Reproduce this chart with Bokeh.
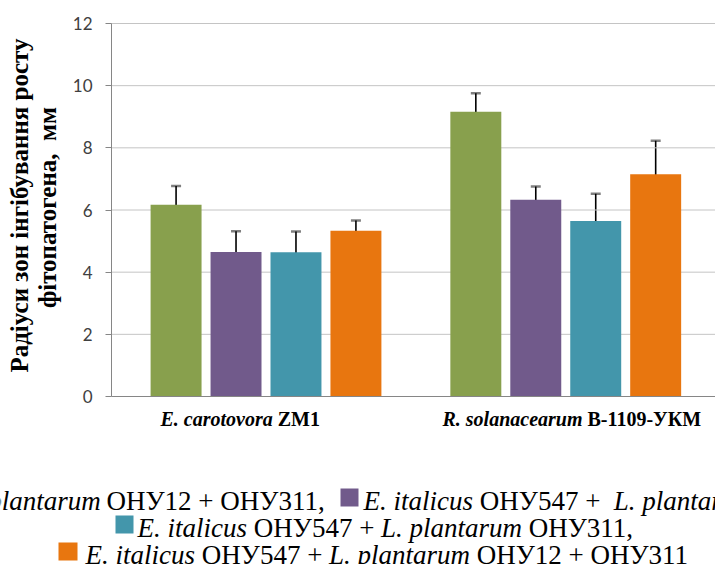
from bokeh.plotting import figure
from bokeh.models import Range1d, FixedTicker, Whisker, TeeHead, ColumnDataSource
from bokeh.core.properties import value
from bokeh.embed import file_html
from bokeh.resources import INLINE

# ---------------- data ----------------
group_italic = ["E. carotovora ", "R. solanacearum "]
group_bold = ["ZM1", "B-1109-УКМ"]
group_pos = [1, 2]

series_colors = ["#88A04D", "#715A8B", "#4396AB", "#E8760F"]
series_offsets = [-0.3, -0.1, 0.1, 0.3]

green_vals = [6.17, 9.16]
purple_vals = [4.65, 6.33]
teal_vals = [4.64, 5.65]
orange_vals = [5.33, 7.15]

green_err = [0.60, 0.60]
purple_err = [0.67, 0.43]
teal_err = [0.67, 0.87]
orange_err = [0.33, 1.08]

y_ticks = [0, 2, 4, 6, 8, 10, 12]
y_title = ["Радіуси зон інгібування росту", "фітопатогена, \u00a0мм"]

# legend lines: (text, style) pieces
legend_line1_left = "E. italicus ОНУ547 + L. plantarum "
legend_line1_right = [("ОНУ12 + ОНУ311,", "normal")]
legend_line1_b = [("E. italicus ", "italic"), ("ОНУ547 + \u00a0", "normal"), ("L. plantarum ", "italic"), ("ОНУ12,", "normal")]
legend_line2 = [("E. italicus ", "italic"), ("ОНУ547 + ", "normal"), ("L. plantarum ", "italic"), ("ОНУ311,", "normal")]
legend_line3 = [("E. italicus ", "italic"), ("ОНУ547 + ", "normal"), ("L. plantarum ", "italic"), ("ОНУ12 + ОНУ311", "normal")]

all_vals = [green_vals, purple_vals, teal_vals, orange_vals]
all_err = [green_err, purple_err, teal_err, orange_err]

# ---------------- font metrics (Times / Liberation Serif advance widths, em) ----------------
W_REG = {' ': .25, '\u00a0': .25, '+': .564, ',': .25, '.': .25, 'О': .722, 'Н': .722, 'У': .70}
W_IT = {'E': .611, '.': .25, ' ': .25, 'i': .278, 't': .278, 'a': .5, 'l': .278, 'c': .444,
        'u': .5, 's': .389, 'L': .556, 'p': .5, 'n': .5, 'r': .389, 'm': .722}
W_BI = {'E': .667, '.': .25, ' ': .25, 'c': .444, 'a': .5, 'r': .389, 'o': .5, 't': .278,
        'v': .444, 'R': .667, 's': .389, 'l': .278, 'n': .556, 'e': .444, 'u': .556, 'm': .778}


def text_w(s, style, size):
    table = W_IT if style == "italic" else (W_BI if style == "bold italic" else W_REG)
    return sum(table.get(ch, 0.5) for ch in s) * size


# ---------------- pixel <-> data mapping ----------------
# pixel x 265.5 is the centre of group 1, 299.75 px per group step
# pixel y 396 is value 0, 31.083 px per unit
def px2x(px):
    return 1 + (px - 265.5) / 299.75


def py2y(py):
    return (396 - py) / 31.083


W, H = 715, 564
AXIS_X = px2x(111)
RIGHT_X = px2x(W)

p = figure(width=W, height=H, output_backend="svg", toolbar_location=None,
           x_range=Range1d(px2x(0), px2x(W)), y_range=Range1d(py2y(H), py2y(0)),
           min_border_left=0, min_border_right=0, min_border_top=0, min_border_bottom=0)
p.outline_line_color = None
p.background_fill_color = "white"
p.border_fill_color = "white"
p.grid.visible = False

p.yaxis.fixed_location = AXIS_X
p.yaxis.bounds = (0, 12)
p.yaxis.ticker = FixedTicker(ticks=y_ticks)
p.yaxis.axis_line_color = "#868686"
p.yaxis.major_tick_line_color = "#868686"
p.yaxis.major_tick_out = 6
p.yaxis.major_tick_in = 0
p.yaxis.minor_tick_line_color = None
p.yaxis.major_label_text_font = "Lato"
p.yaxis.major_label_text_font_size = "17px"
p.yaxis.major_label_text_color = "#404040"
p.yaxis.major_label_standoff = 13

p.xaxis.fixed_location = 0
p.xaxis.bounds = (AXIS_X, RIGHT_X)
p.xaxis.ticker = FixedTicker(ticks=[])
p.xaxis.axis_line_color = "#868686"
p.xaxis.major_tick_line_color = None
p.xaxis.minor_tick_line_color = None
p.xaxis.major_label_text_font_size = "0px"

# horizontal grid lines (only over the plot area right of the axis)
gy = [t for t in y_ticks if t > 0]
p.segment(x0=[AXIS_X] * len(gy), x1=[RIGHT_X] * len(gy), y0=gy, y1=gy,
          line_color="#C4C4C4", line_width=1)

for i in range(4):
    xs = [g + series_offsets[i] for g in group_pos]
    tops = all_vals[i]
    src = ColumnDataSource(dict(x=xs, top=tops,
                                upper=[v + e for v, e in zip(tops, all_err[i])],
                                lower=[v - e for v, e in zip(tops, all_err[i])]))
    p.vbar(x="x", top="top", width=0.17, bottom=0, source=src,
           fill_color=series_colors[i], line_color=None)
    wh = Whisker(base="x", upper="upper", lower="lower", source=src,
                 line_color="black", line_width=1.6,
                 upper_head=TeeHead(size=10, line_color="black", line_alpha=0.5, line_width=2.5),
                 lower_head=TeeHead(size=10, line_color="black", line_alpha=0.55, line_width=2.5))
    p.add_layout(wh)


# ---------------- text helpers (positions in pixels) ----------------
def add_text(px, py, txt, size=27, style="normal", align="left", baseline="alphabetic", angle=0.0):
    p.text(x=[px2x(px)], y=[py2y(py)], text=[txt], text_font=value("Liberation Serif"),
           text_font_size=f"{size}px", text_font_style=style, text_align=align,
           text_baseline=baseline, angle=angle, text_color="black")


def add_pieces(px, py, pieces, size=27):
    for txt, st in pieces:
        add_text(px, py, txt, size=size, style=st)
        px += text_w(txt, st, size)
    return px


def add_square(x0, y0, x1, y1, color):
    p.quad(left=[px2x(x0)], right=[px2x(x1)], top=[py2y(y0)], bottom=[py2y(y1)],
           fill_color=color, line_color=None)


# category labels
cat_starts = [160, 442]
for i in range(2):
    x = cat_starts[i]
    add_text(x, 418, group_italic[i], size=20, style="bold italic")
    x += text_w(group_italic[i], "bold italic", 20)
    add_text(x, 418, group_bold[i], size=20, style="bold")

# y-axis title (two rotated lines)
add_text(19, 205, y_title[0], size=25, style="bold", align="center", baseline="middle", angle=1.5708)
add_text(47, 207, y_title[1], size=25, style="bold", align="center", baseline="middle", angle=1.5708)

# legend (squares at B-17..B+1, text drawn 5px higher to match rendered baseline)
LS = 27
B1, B2, B3 = 505, 532, 559
T = 5
add_text(107, B1 - T, legend_line1_left, size=LS, style="italic", align="right")
add_pieces(106, B1 - T, legend_line1_right, LS)
add_square(340, B1 - 17, 358, B1 + 1, series_colors[1])
add_pieces(363, B1 - T, legend_line1_b, LS)

add_square(115, B2 - 17, 133, B2 + 1, series_colors[2])
add_pieces(137, B2 - T, legend_line2, LS)

add_square(58, B3 - 17, 77, B3 + 1, series_colors[3])
add_pieces(85, B3 - T, legend_line3, LS)

open("out.html", "w").write(file_html(p, INLINE))
